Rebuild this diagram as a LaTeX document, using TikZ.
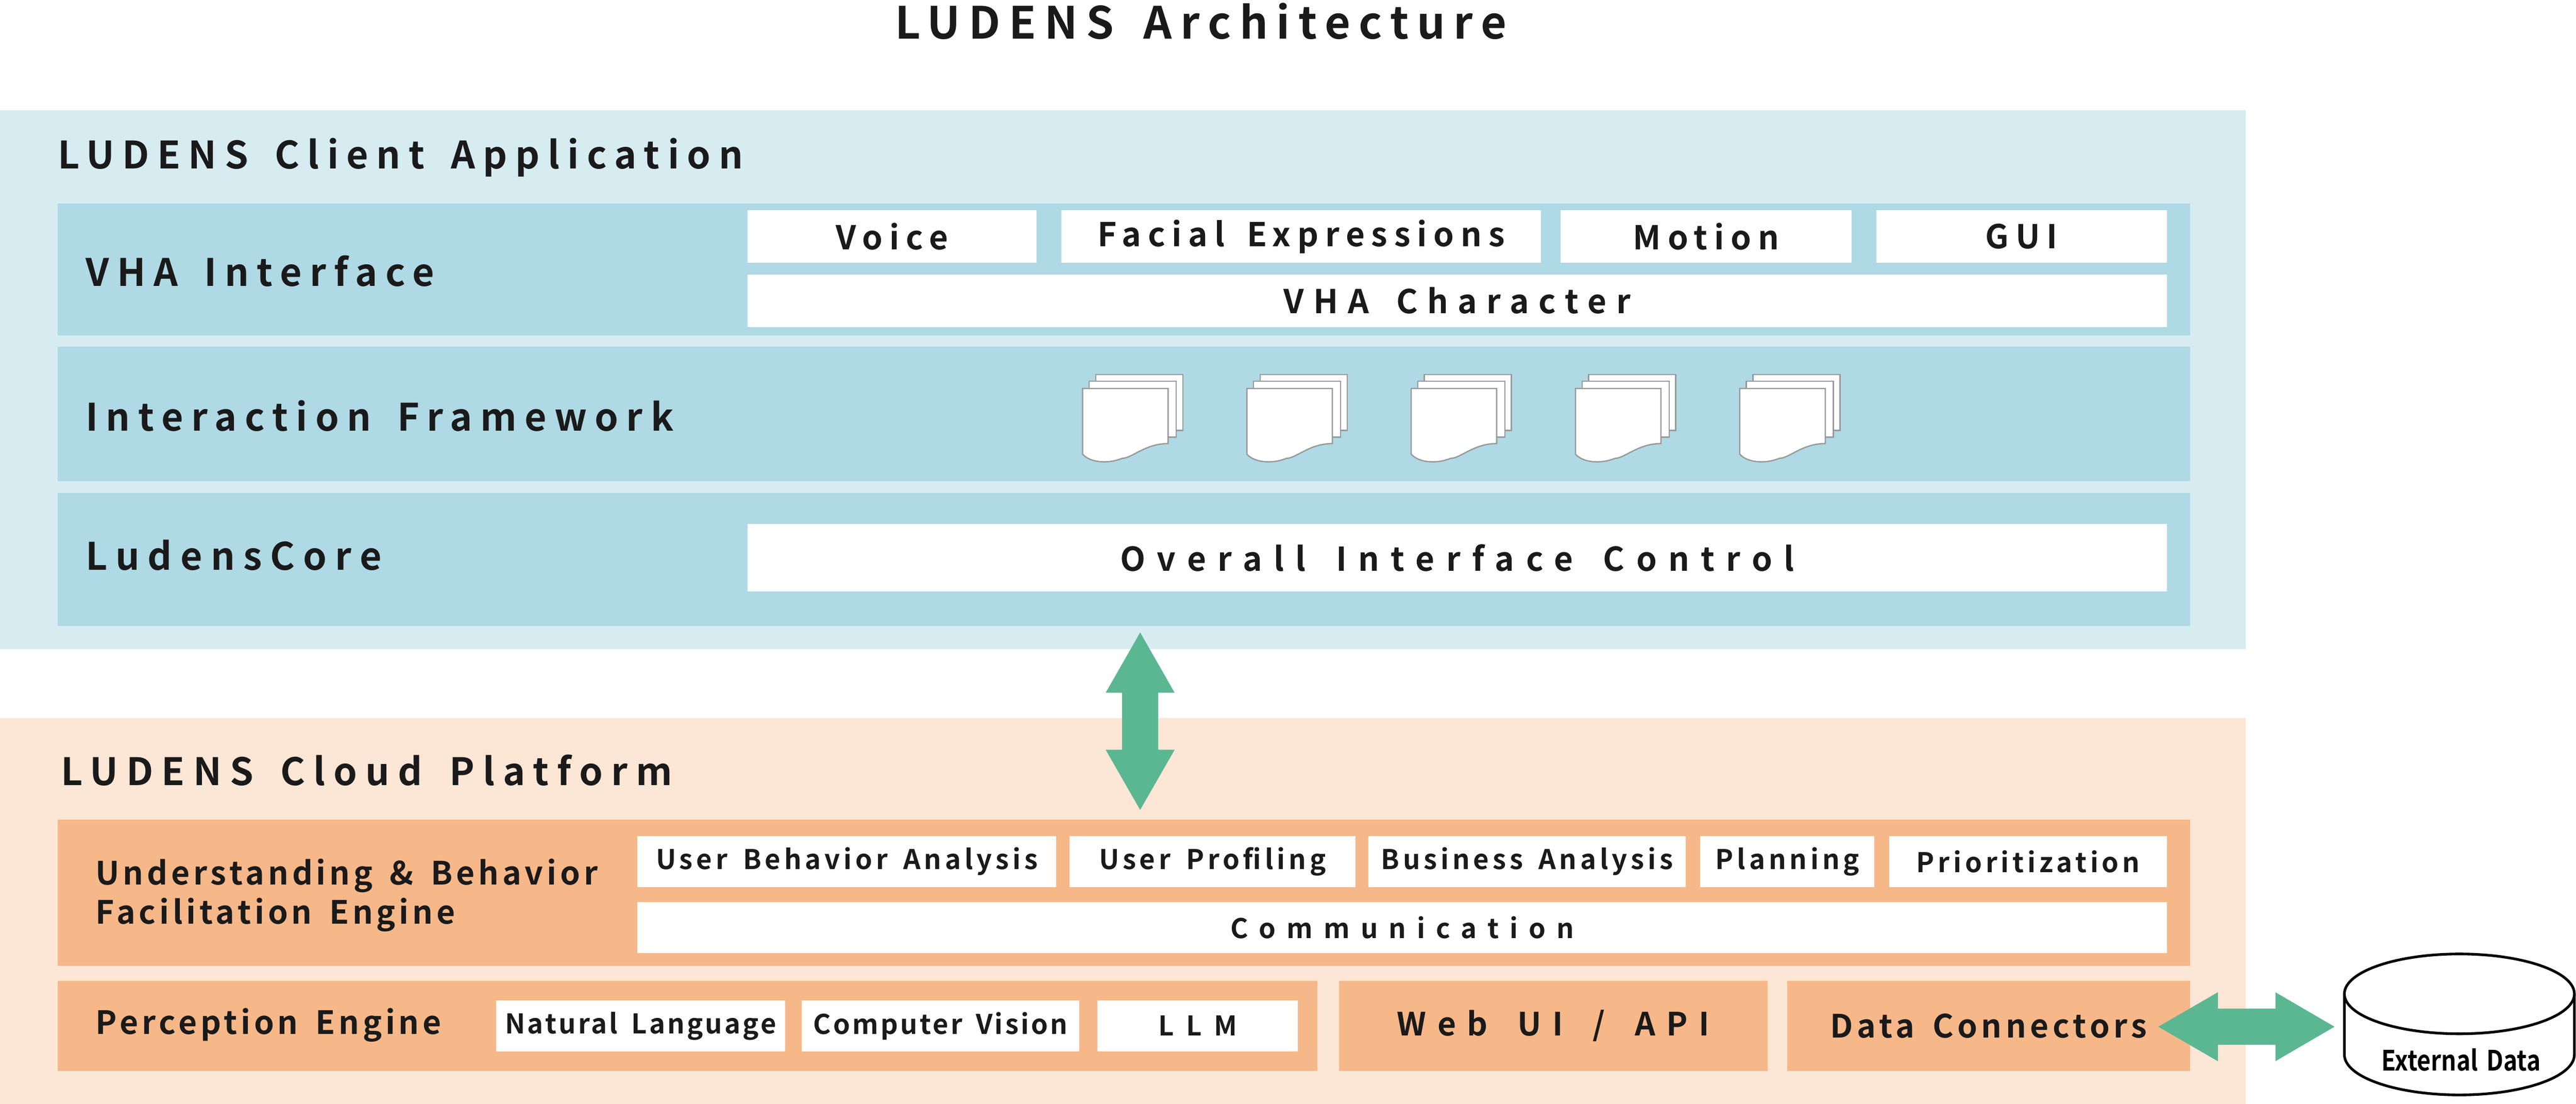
\documentclass[tikz,border=0pt]{standalone}
\usepackage{fontspec}
\setmainfont{Noto Sans CJK JP}[BoldFont={Noto Sans CJK JP Bold},WordSpace=1.6]
\usetikzlibrary{shapes.geometric}
\definecolor{cout}{HTML}{D6ECF1}
\definecolor{crow}{HTML}{AFD9E4}
\definecolor{oout}{HTML}{FCE6D5}
\definecolor{orow}{HTML}{F6B889}
\definecolor{grn}{HTML}{5BB792}
\definecolor{ink}{HTML}{1A1A1A}
\newcommand{\lsp}[2]{{\addfontfeatures{LetterSpace=#1}#2}}
\tikzset{
 R/.style={rectangle,inner sep=0pt,outer sep=0pt,anchor=north west,draw=none},
 wb/.style={R,fill=white,text=ink,font=\bfseries},
 lab/.style={anchor=west,inner sep=0pt,text=ink,font=\bfseries},
 doc/.style={fill=white,draw=black!40,line width=0.8pt},
}
\newcommand{\rbox}[6]{\node[R,fill=#6,minimum width=#4-#2,minimum height=#5-#3] (#1) at (#2,#3) {};}
\newcommand{\docstack}[1]{%
 \begin{scope}[xshift=#1]
 \draw[doc] (8,228) rectangle (61,262);
 \draw[doc] (4,232) rectangle (57,266);
 \draw[doc] (0,236.5) -- (52,236.5) -- (52,270) .. controls (38,270) and (30,279) .. (24,279) .. controls (14,283) and (4,281) .. (0,276.5) -- cycle;
 \end{scope}}
\begin{document}
\begin{tikzpicture}[x=1pt,y=-1pt]
\useasboundingbox (0,0) rectangle (1568,672);
\node[text=ink,font=\bfseries\fontsize{27}{30}\selectfont] (title) at (731,13) {\lsp{19}{LUDENS Architecture}};
% client
\rbox{client}{0}{67}{1367}{395}{cout}
\rbox{vha}{35}{124}{1333}{204}{crow}
\rbox{ifw}{35}{211}{1333}{293}{crow}
\rbox{core}{35}{300}{1333}{381}{crow}
\node[lab,font=\bfseries\fontsize{23}{26}\selectfont] (clientl) at (35,96) {\lsp{21}{LUDENS Client Application}};
\node[lab,font=\bfseries\fontsize{23}{26}\selectfont] (vhal) at (52,165) {\lsp{21}{VHA Interface}};
\node[lab,font=\bfseries\fontsize{23}{26}\selectfont] (ifwl) at (52,253) {\lsp{21}{Interaction Framework}};
\node[lab,font=\bfseries\fontsize{23}{26}\selectfont] (corel) at (52,338) {\lsp{22}{LudensCore}};
\tikzset{wbA/.style={wb,font=\bfseries\fontsize{20}{22}\selectfont}}
\node[wbA,minimum width=176,minimum height=32] (voice) at (455,128) {\lsp{20}{Voice}};
\node[wbA,minimum width=292,minimum height=32] (face) at (646,128) {\lsp{20}{Facial Expressions}};
\node[wbA,minimum width=177,minimum height=32] (motion) at (950,128) {\lsp{20}{Motion}};
\node[wbA,minimum width=177,minimum height=32] (gui) at (1142,128) {\lsp{20}{GUI}};
\node[wbA,minimum width=864,minimum height=32] (char) at (455,167) {\lsp{29}{VHA Character}};
\node[wbA,minimum width=864,minimum height=41] (oic) at (455,319) {\lsp{35}{Overall Interface Control}};
\docstack{659}\docstack{759}\docstack{859}\docstack{959}\docstack{1059}
% cloud
\rbox{cloud}{0}{437}{1367}{672}{oout}
\rbox{ube}{35}{499}{1333}{588}{orow}
\rbox{pe}{35}{597}{802}{652}{orow}
\rbox{web}{815}{597}{1076}{652}{orow}
\rbox{dc}{1088}{597}{1333}{652}{orow}
\node[lab,font=\bfseries\fontsize{23}{26}\selectfont] (cloudl) at (37,469) {\lsp{22}{LUDENS Cloud Platform}};
\node[lab,font=\bfseries\fontsize{19.5}{24}\selectfont,align=left] (ubel) at (58,545) {\lsp{11}{Understanding \& Behavior}\\\lsp{11}{Facilitation Engine}};
\node[lab,font=\bfseries\fontsize{19.5}{24}\selectfont] (pel) at (58,624) {\lsp{11}{Perception Engine}};
\node[font=\bfseries\fontsize{19.5}{24}\selectfont,text=ink] (webl) at (web.center) {\lsp{35}{Web UI / API}};
\node[font=\bfseries\fontsize{19.5}{24}\selectfont,text=ink] (dcl) at (dc.center) {\lsp{12}{Data Connectors}};
\tikzset{wbB/.style={wb,font=\bfseries\fontsize{16.5}{20}\selectfont}}
\node[wbB,minimum width=255,minimum height=31] (uba) at (388,509) {\lsp{13}{User Behavior Analysis}};
\node[wbB,minimum width=174,minimum height=31] (up) at (651,509) {\lsp{13}{User Profiling}};
\node[wbB,minimum width=193,minimum height=31] (ba) at (833,509) {\lsp{13}{Business Analysis}};
\node[wbB,minimum width=106,minimum height=31] (plan) at (1035,509) {\lsp{13}{Planning}};
\node[wbB,minimum width=169,minimum height=31] (prio) at (1150,509) {\lsp{13}{Prioritization}};
\node[wbB,minimum width=931,minimum height=31] (comm) at (388,549) {\lsp{40}{Communication}};
\node[wbB,minimum width=176,minimum height=31] (nl) at (302,609) {\lsp{8}{Natural Language}};
\node[wbB,minimum width=169,minimum height=31] (cv) at (488,609) {\lsp{8}{Computer Vision}};
\node[wbB,minimum width=122,minimum height=31] (llm) at (668,609) {\lsp{45}{LLM}};
% arrows
\fill[grn] (694,385) -- (715,421.7) -- (705,421.7) -- (705,456.4) -- (715,456.4) -- (694,493) -- (673,456.4) -- (683,456.4) -- (683,421.7) -- (673,421.7) -- cycle;
\fill[grn] (1313.7,625) -- (1350,604) -- (1350,614) -- (1385,614) -- (1385,604) -- (1421,625) -- (1385,646) -- (1385,636) -- (1350,636) -- (1350,646) -- cycle;
% cylinder
\coordinate (cylc) at (1497,605);
\draw[line width=1.6pt,fill=white] (1427,605) -- (1427,642) arc[start angle=180,end angle=0,x radius=70,y radius=24.5] -- (1567,605);
\draw[line width=1.6pt,fill=white] (cylc) ellipse [x radius=70,y radius=24.3];
\node[font=\bfseries\fontsize{17}{20}\selectfont,text=black] (ext) at (1498,645) {\addfontfeatures{FakeStretch=0.85}External Data};
\end{tikzpicture}
\end{document}
